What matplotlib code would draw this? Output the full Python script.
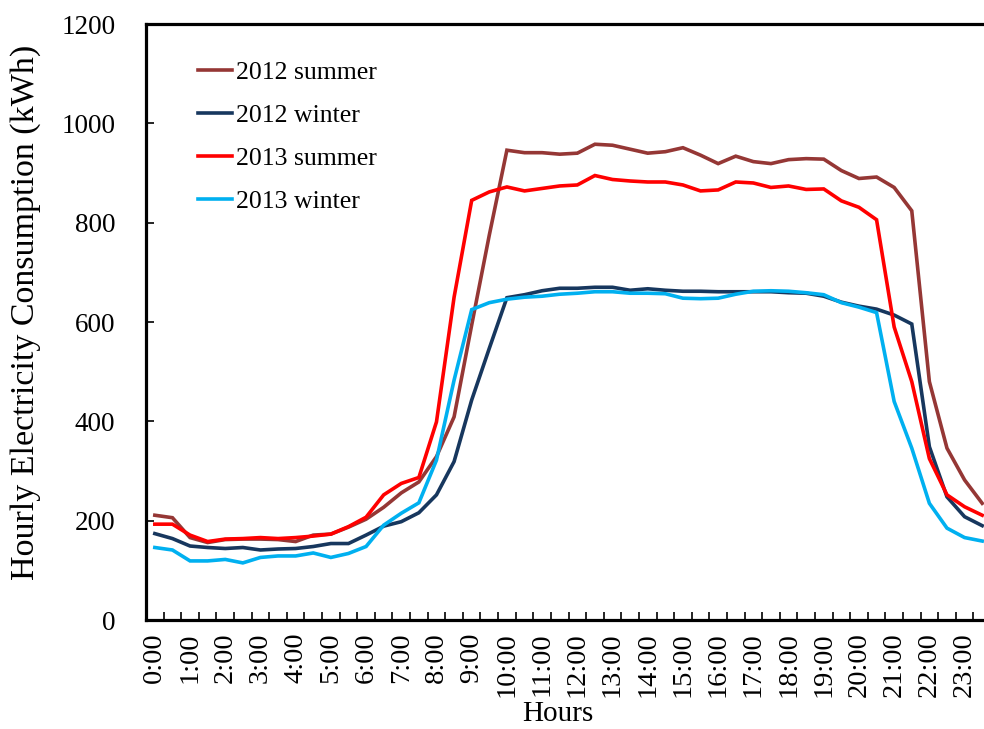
import matplotlib
matplotlib.use("Agg")
import matplotlib.pyplot as plt
import numpy as np

# Half-hourly categories 0:00 ... 23:30
hour_labels = [f"{h}:00" for h in range(24)]

summer_2012 = [211, 206, 166, 156, 162, 163, 163, 162, 158, 171, 173, 187,
               203, 227, 256, 278, 329, 409, 594, 775, 946, 941, 941, 938,
               940, 958, 956, 948, 940, 943, 951, 936, 919, 934, 923, 919,
               927, 929, 928, 905, 889, 892, 871, 824, 480, 346, 282, 235]
winter_2012 = [174, 164, 149, 146, 144, 146, 141, 143, 144, 148, 154, 154,
               171, 189, 198, 216, 252, 319, 443, 547, 649, 655, 663, 668,
               668, 670, 670, 664, 667, 664, 662, 662, 661, 661, 661, 661,
               659, 658, 652, 640, 632, 626, 614, 596, 349, 248, 208, 190]
summer_2013 = [193, 193, 171, 158, 163, 164, 166, 164, 166, 169, 173, 188,
               207, 252, 275, 287, 399, 650, 845, 862, 872, 864, 869, 874,
               876, 895, 887, 884, 882, 882, 876, 864, 866, 882, 880, 871,
               874, 867, 868, 844, 831, 806, 590, 480, 325, 252, 228, 211]
winter_2013 = [146, 141, 119, 119, 122, 115, 126, 129, 129, 135, 126, 134,
               148, 191, 215, 236, 322, 483, 625, 639, 646, 650, 652, 656,
               658, 661, 661, 658, 658, 657, 648, 647, 648, 656, 662, 663,
               662, 659, 655, 639, 630, 619, 440, 346, 235, 185, 166, 159]

series = [
    ("2012 summer", summer_2012, "#953735"),
    ("2012 winter", winter_2012, "#17375E"),
    ("2013 summer", summer_2013, "#FF0000"),
    ("2013 winter", winter_2013, "#00B0F0"),
]

plt.rcParams['font.family'] = ['Liberation Serif', 'DejaVu Serif']

fig = plt.figure(figsize=(9.84, 7.29), dpi=100)
ax = fig.add_axes([0.1484, 0.1495, 0.8587, 0.8175])

x = np.arange(len(summer_2012))
for name, vals, col in series:
    ax.plot(x, vals, color=col, lw=2.6, label=name, solid_joinstyle='miter')

ax.set_xlim(-0.5, len(x) - 0.5)
ax.set_ylim(0, 1200)
ax.set_yticks(np.arange(0, 1201, 200))
ax.set_xticks(np.arange(0, len(x), 2))
ax.set_xticklabels(hour_labels, rotation=90)
ax.set_xticks(np.arange(-0.5, len(x) + 0.5, 1), minor=True)

ax.tick_params(axis='x', which='major', length=0, pad=9, labelsize=20.5)
ax.tick_params(axis='x', which='minor', direction='in', length=6, width=1.2)
ax.tick_params(axis='y', direction='in', length=6, width=1.2, pad=22, labelsize=19.5)

for s in ['left', 'bottom', 'top']:
    ax.spines[s].set_linewidth(2.3)
ax.spines['right'].set_visible(False)

ax.set_xlabel("Hours", fontsize=21, va='baseline')
ax.xaxis.set_label_coords(0.4876, -0.170)
ax.set_ylabel("Hourly Electricity Consumption (kWh)", fontsize=24.5)
ax.yaxis.set_label_coords(-0.124, 0.517)

leg = ax.legend(loc='upper left', bbox_to_anchor=(0.061, 0.938), frameon=False,
                fontsize=18.5, handlelength=1.35, handletextpad=0.15,
                labelspacing=0.78, borderpad=0, borderaxespad=0)
for h in leg.get_lines():
    h.set_linewidth(2.6)

fig.savefig("out.png", dpi=100)
